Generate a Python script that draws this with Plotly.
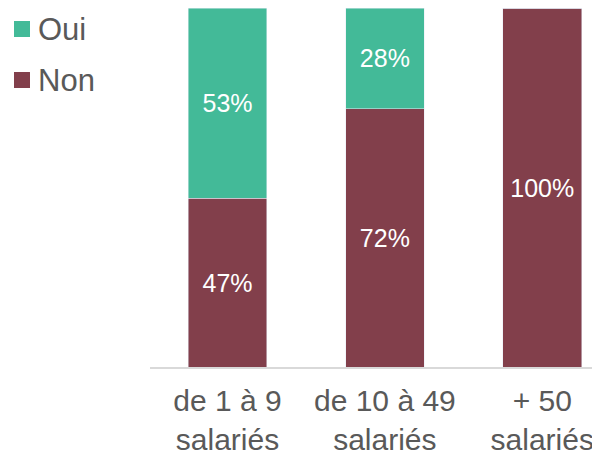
import plotly.graph_objects as go

categories = ["de 1 à 9<br>salariés", "de 10 à 49<br>salariés", "+ 50<br>salariés"]
non_values = [47, 72, 100]
oui_values = [53, 28, 0]
series_names = ["Oui", "Non"]
colors = {"Oui": "#43BA98", "Non": "#823F4B"}

FONT = "Liberation Sans, Arial"
fig = go.Figure()
x_idx = list(range(len(categories)))

fig.add_trace(go.Bar(
    x=x_idx, y=non_values, name="Non", marker_color=colors["Non"],
    width=0.5, text=[f"{v}%" for v in non_values], textposition="inside",
    insidetextanchor="middle", textfont=dict(color="white", size=25, family=FONT),
    showlegend=False,
))
fig.add_trace(go.Bar(
    x=x_idx, y=oui_values, name="Oui", marker_color=colors["Oui"],
    width=0.5, text=[f"{v}%" if v else "" for v in oui_values], textposition="inside",
    insidetextanchor="middle", textfont=dict(color="white", size=25, family=FONT),
    showlegend=False,
))

# manual legend (page has an 8px body margin; figure coords are offset)
legend_y = [0.9415, 0.7994]
half_h = 8 / 359
for name, ly in zip(series_names, legend_y):
    fig.add_shape(type="rect", xref="paper", yref="paper",
                  x0=-0.3022, x1=-0.2667, y0=ly - half_h, y1=ly + half_h,
                  fillcolor=colors[name], line_width=0)
    fig.add_annotation(text=name, xref="paper", yref="paper", x=-0.2533, y=ly,
                       xanchor="left", yanchor="middle", showarrow=False,
                       font=dict(size=31, color="#595959", family=FONT))

fig.update_layout(
    barmode="stack",
    width=592, height=448,
    margin=dict(l=142, r=0, t=0, b=89),
    plot_bgcolor="white", paper_bgcolor="white",
    xaxis=dict(
        tickmode="array", tickvals=x_idx, ticktext=categories,
        range=[-0.4925, 2.367], showline=True, linecolor="#D9D9D9", linewidth=1.5,
        ticks="", showgrid=False, zeroline=False, ticklabelstandoff=6,
        tickfont=dict(size=30, color="#595959", family=FONT),
    ),
    yaxis=dict(range=[0, 100], visible=False, showgrid=False),
)

fig.write_html("out.html")
